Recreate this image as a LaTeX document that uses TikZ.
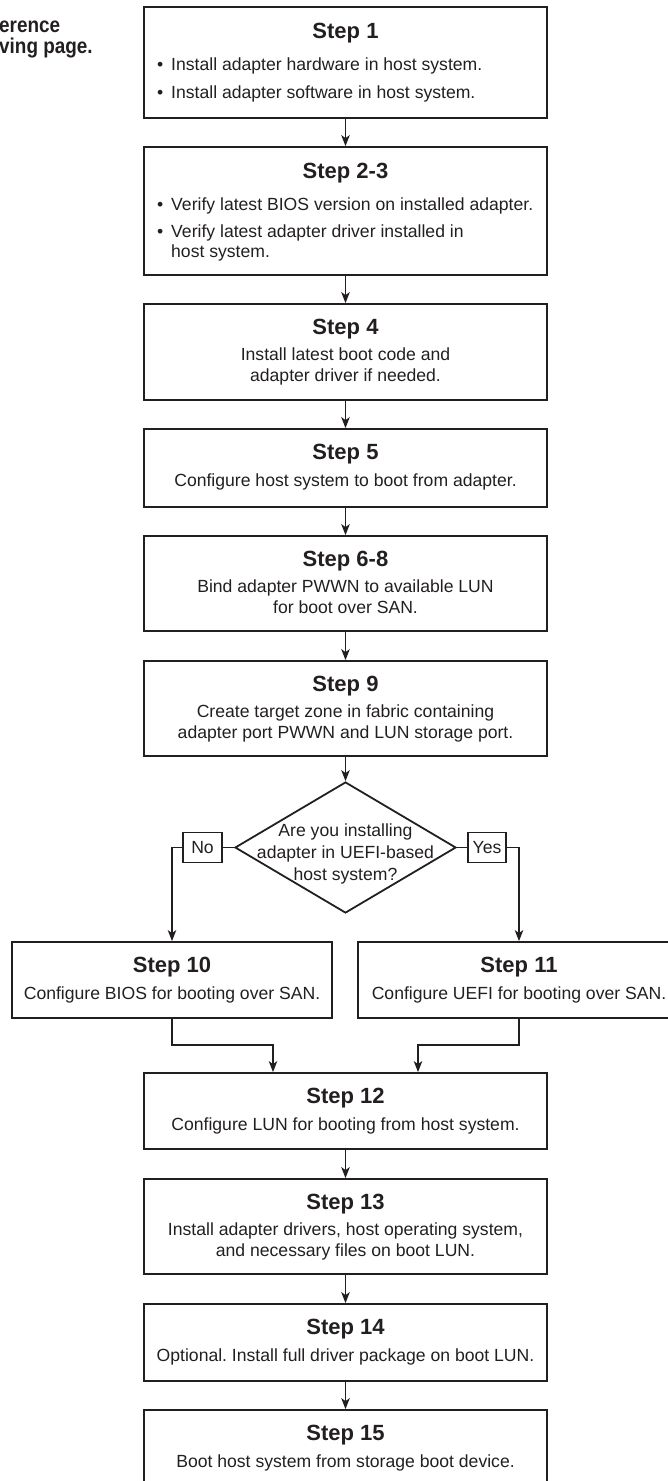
\documentclass[tikz,border=0pt]{standalone}
\usepackage{fontspec}
\setmainfont{Liberation Sans}
\newfontfamily\condfont[FakeStretch=0.88]{Liberation Sans}
\usetikzlibrary{shapes.geometric,arrows.meta}
\definecolor{ink}{RGB}{35,31,32}
\frenchspacing
\begin{document}
\begin{tikzpicture}[x=1pt,y=-1pt,
  stepbox/.style={draw=ink, line width=1.8pt, rectangle, inner sep=0pt, minimum width=403pt},
  head/.style={anchor=base, inner sep=0pt, text=ink, font=\fontsize{22}{24}\selectfont\bfseries},
  body/.style={anchor=base, inner sep=0pt, text=ink, align=center, font=\fontsize{17.6}{21}\selectfont},
  bul/.style={anchor=base west, inner sep=0pt, text=ink, font=\fontsize{17.6}{21}\selectfont},
  arr/.style={draw=ink, line width=1.3pt, -{Stealth[length=11pt,width=8.5pt,inset=3pt]}},
  ln/.style={draw=ink, line width=1.3pt},
  tag/.style={draw=ink, line width=1.6pt, inner sep=0pt, minimum height=30pt, text=ink, font=\fontsize{17.6}{21}\selectfont},
  corner/.style={anchor=base west, inner sep=0pt, text=ink, font=\condfont\fontsize{21.5}{24}\selectfont\bfseries},
]
\useasboundingbox (0,0) rectangle (667,1481);

% fragment of surrounding page text
\node[corner] (c1) at (-1,32) {erence};
\node[corner] (c2) at (-1,53) {ving page.};

% boxes
\node[stepbox, minimum height=111pt] (s1) at (345.5,62.5) {};
\node[stepbox, minimum height=128pt] (s23) at (345.5,211) {};
\node[stepbox, minimum height=96pt] (s4) at (345.5,352) {};
\node[stepbox, minimum height=78pt] (s5) at (345.5,468) {};
\node[stepbox, minimum height=95pt] (s68) at (345.5,583.5) {};
\node[stepbox, minimum height=95pt] (s9) at (345.5,708.5) {};
\node[diamond, draw=ink, line width=1.8pt, inner sep=0pt, minimum width=221pt, minimum height=131pt] (dec) at (345.5,847.5) {};
\node[tag, minimum width=39pt] (no) at (202.5,847.5) {No};
\node[tag, minimum width=38pt] (yes) at (487,847.5) {Yes};
\node[stepbox, minimum width=320pt, minimum height=76pt] (s10) at (172,980) {};
\node[stepbox, minimum width=322pt, minimum height=76pt] (s11) at (519,980) {};
\node[stepbox, minimum height=76pt] (s12) at (345.5,1111) {};
\node[stepbox, minimum height=95pt] (s13) at (345.5,1226.5) {};
\node[stepbox, minimum height=77pt] (s14) at (345.5,1342.5) {};
\node[stepbox, minimum height=77pt] (s15) at (345.5,1448.5) {};

% texts
\node[head] (h1) at (345.5,38) {Step 1};
\node[bul] (b1a) at (157,70) {\makebox[14pt][l]{•}Install adapter hardware in host system.};
\node[bul] (b1b) at (157,98) {\makebox[14pt][l]{•}Install adapter software in host system.};

\node[head] (h23) at (345.5,178) {Step 2-3};
\node[bul] (b23a) at (157,210) {\makebox[14pt][l]{•}Verify latest BIOS version on installed adapter.};
\node[bul] (b23b) at (157,237) {\makebox[14pt][l]{•}Verify latest adapter driver installed in};
\node[bul] (b23c) at (171,257) {host system.};

\node[head] (h4) at (345.5,334) {Step 4};
\node[body] (t4) at (345.5,381) {Install latest boot code and\\adapter driver if needed.};

\node[head] (h5) at (345.5,459) {Step 5};
\node[body] (t5) at (345.5,486) {Configure host system to boot from adapter.};

\node[head] (h68) at (345.5,566) {Step 6-8};
\node[body] (t68) at (345.5,613) {Bind adapter PWWN to available LUN\\for boot over SAN.};

\node[head] (h9) at (345.5,691) {Step 9};
\node[body] (t9) at (345.5,738) {Create target zone in fabric containing\\adapter port PWWN and LUN storage port.};

\node[body] (td) at (345.5,880) {Are you installing\\[1pt]adapter in UEFI-based\\[1pt]host system?};

\node[head] (h10) at (172,972) {Step 10};
\node[body] (t10) at (172,999) {Configure BIOS for booting over SAN.};
\node[head] (h11) at (519,972) {Step 11};
\node[body] (t11) at (519,999) {Configure UEFI for booting over SAN.};

\node[head] (h12) at (345.5,1103) {Step 12};
\node[body] (t12) at (345.5,1130) {Configure LUN for booting from host system.};

\node[head] (h13) at (345.5,1209) {Step 13};
\node[body] (t13) at (345.5,1256) {Install adapter drivers, host operating system,\\and necessary files on boot LUN.};

\node[head] (h14) at (345.5,1334) {Step 14};
\node[body] (t14) at (345.5,1361) {Optional. Install full driver package on boot LUN.};

\node[head] (h15) at (345.5,1440) {Step 15};
\node[body] (t15) at (345.5,1467) {Boot host system from storage boot device.};

% connectors
\draw[arr] (s1.south) -- (s23.north);
\draw[arr] (s23.south) -- (s4.north);
\draw[arr] (s4.south) -- (s5.north);
\draw[arr] (s5.south) -- (s68.north);
\draw[arr] (s68.south) -- (s9.north);
\draw[arr] (s9.south) -- (dec.north);
\draw[ln] (dec.west) -- (no.east);
\draw[ln] (dec.east) -- (yes.west);
\draw[arr] (no.west) -| (s10.north);
\draw[arr] (yes.east) -| (s11.north);
\coordinate (m1) at (273,1045);
\coordinate (m2) at (418,1045);
\draw[arr] (s10.south) |- (m1) -- (m1 |- s12.north);
\draw[arr] (s11.south) |- (m2) -- (m2 |- s12.north);
\draw[arr] (s12.south) -- (s13.north);
\draw[arr] (s13.south) -- (s14.north);
\draw[arr] (s14.south) -- (s15.north);
\end{tikzpicture}
\end{document}
